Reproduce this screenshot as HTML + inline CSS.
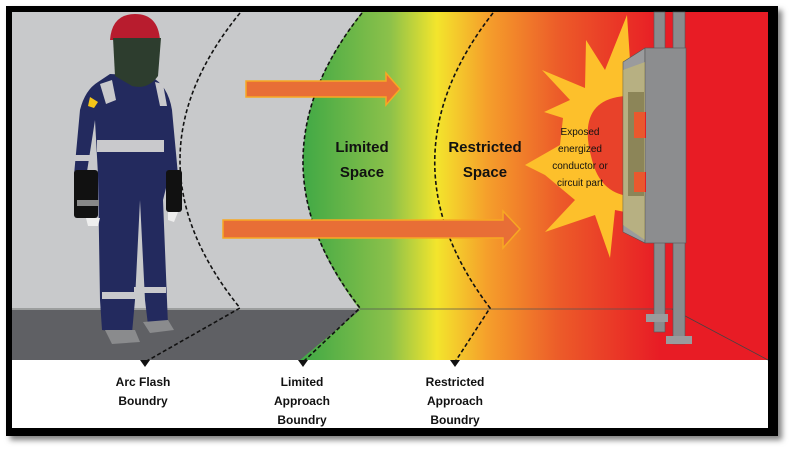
<!DOCTYPE html>
<html><head><meta charset="utf-8"><style>
html,body{margin:0;padding:0;background:#fff;width:791px;height:450px;overflow:hidden}
svg{display:block}
text{font-family:"Liberation Sans",sans-serif;font-weight:bold;fill:#111}
</style></head><body>
<svg width="791" height="450" viewBox="0 0 791 450" xmlns="http://www.w3.org/2000/svg">
<defs>
<linearGradient id="g" x1="300" y1="0" x2="660" y2="0" gradientUnits="userSpaceOnUse">
<stop offset="0" stop-color="#3ea845"/>
<stop offset="0.25" stop-color="#8cc14a"/>
<stop offset="0.38" stop-color="#f3e52c"/>
<stop offset="0.52" stop-color="#f59f2b"/>
<stop offset="0.72" stop-color="#ec5b29"/>
<stop offset="1" stop-color="#e81c25"/>
</linearGradient>
<filter id="sh"><feDropShadow dx="4" dy="4" stdDeviation="3" flood-color="#000" flood-opacity="0.5"/></filter>
</defs>
<rect x="6" y="6" width="772" height="430" fill="#000" filter="url(#sh)"/>
<rect x="12" y="12" width="756" height="416" fill="#fff"/>
<rect x="12" y="12" width="756" height="298" fill="#c8c9cb"/>
<rect x="12" y="310" width="756" height="50" fill="#5f6064"/>
<path d="M362,12 Q245,160 360,310 L300,360 L768,360 L768,12 Z" fill="url(#g)"/>
<line x1="12" y1="309" x2="680" y2="309" stroke="#555" stroke-width="0.8"/>
<line x1="672" y1="309" x2="768" y2="360" stroke="#444" stroke-width="0.8"/>
<g fill="none" stroke="#111" stroke-width="1.6" stroke-dasharray="4,2.5">
<path d="M240,13 Q120,160 240,308 L145,362"/>
<path d="M362,13 Q245,160 360,308 L303,362"/>
<path d="M493,13 Q378,160 490,308 L455,362"/>
</g>
<g fill="#111">
<path d="M140,360 L150,360 L145,367 Z"/>
<path d="M298,360 L308,360 L303,367 Z"/>
<path d="M450,360 L460,360 L455,367 Z"/>
</g>
<!-- burst -->
<path d="M627,15 L630,60 L645,50 L640,80 L620,150 L650,200 L640,215 L615,210 L610,258 L595,215 L545,232 L575,200 L545,175 L525,165 L560,145 L563,118 L544,112 L570,100 L542,70 L585,88 L586,40 L605,70 Z" fill="#fdc02b"/>
<path d="M625,96 Q575,100 592,160 Q600,192 628,196 Z" fill="#e8422a"/>
<!-- panel -->
<rect x="654" y="12" width="11" height="320" fill="#8a8b8d" stroke="#555" stroke-width="0.6"/>
<rect x="673" y="12" width="12" height="332" fill="#8a8b8d" stroke="#555" stroke-width="0.6"/>
<rect x="646" y="314" width="22" height="8" fill="#9a9b9d"/>
<rect x="666" y="336" width="26" height="8" fill="#9a9b9d"/>
<path d="M623,62 L645,48 L645,243 L623,232 Z" fill="#9a9b9d" stroke="#555" stroke-width="0.6"/>
<rect x="645" y="48" width="41" height="195" fill="#8c8d8f" stroke="#555" stroke-width="0.6"/>
<rect x="628" y="92" width="16" height="104" fill="#5c5d60"/>
<rect x="634" y="112" width="12" height="26" fill="#e31e25"/>
<rect x="634" y="172" width="12" height="20" fill="#e31e25"/>
<path d="M623,70 L645,62 L645,240 L623,225 Z" fill="#fde047" opacity="0.3"/>
<!-- arrows -->
<path d="M246,81 L386,81 L386,73 L400,89 L386,105 L386,97 L246,97 Z" fill="#e86e36" stroke="#f7a823" stroke-width="1.5"/>
<path d="M223,220 L503,220 L503,211 L520,229 L503,248 L503,238 L223,238 Z" fill="#e86e36" stroke="#f7a823" stroke-width="1.5"/>
<!-- person -->
<g>
<path d="M98,82 Q85,90 80,110 L74,175 L86,178 L95,120 L98,175 L100,300 L102,330 L132,333 L135,300 L140,200 L145,300 L148,325 L168,325 L163,200 L168,180 L178,175 L172,110 Q168,85 150,76 L110,74 Z" fill="#232a5e"/>
<rect x="74" y="170" width="24" height="48" rx="3" fill="#111"/>
<rect x="77" y="200" width="22" height="6" fill="#888"/>
<rect x="166" y="170" width="16" height="42" rx="3" fill="#111"/>
<path d="M86,218 L100,218 L98,226 L88,226 Z" fill="#eee"/>
<path d="M168,212 L178,212 L174,222 L168,220 Z" fill="#eee"/>
<rect x="97" y="140" width="67" height="12" fill="#c9c9cc"/>
<rect x="74" y="155" width="22" height="6" fill="#c9c9cc"/>
<rect x="102" y="292" width="34" height="7" fill="#c9c9cc"/>
<rect x="134" y="287" width="32" height="6" fill="#c9c9cc"/>
<path d="M100,84 L112,80 L116,100 L106,104 Z" fill="#c9c9cc"/>
<path d="M155,82 L163,84 L167,106 L160,106 Z" fill="#c9c9cc"/>
<path d="M105,330 L135,330 L140,342 L112,344 Z" fill="#8a8b8d"/>
<path d="M143,322 L168,320 L174,330 L150,333 Z" fill="#8a8b8d"/>
<path d="M90,97 L98,102 L94,108 L88,106 Z" fill="#f5c518"/>
<path d="M110,40 Q112,14 135,14 Q158,14 160,40 Z" fill="#b81c2e"/>
<path d="M113,38 L161,38 L158,76 Q148,90 132,86 L115,76 Z" fill="#2d3d2e"/>
</g>
<g text-anchor="middle">
<text x="362" y="152" font-size="15">Limited</text>
<text x="362" y="177" font-size="15">Space</text>
<text x="485" y="152" font-size="15">Restricted</text>
<text x="485" y="177" font-size="15">Space</text>
<g font-size="10">
<text x="580" y="135" style="font-weight:normal">Exposed</text>
<text x="580" y="152" style="font-weight:normal">energized</text>
<text x="580" y="169" style="font-weight:normal">conductor or</text>
<text x="580" y="186" style="font-weight:normal">circuit part</text>
</g>
<g font-size="12">
<text x="143" y="386">Arc Flash</text>
<text x="143" y="405">Boundry</text>
<text x="302" y="386">Limited</text>
<text x="302" y="405">Approach</text>
<text x="302" y="424">Boundry</text>
<text x="455" y="386">Restricted</text>
<text x="455" y="405">Approach</text>
<text x="455" y="424">Boundry</text>
</g>
</g>
</svg>
</body></html>
